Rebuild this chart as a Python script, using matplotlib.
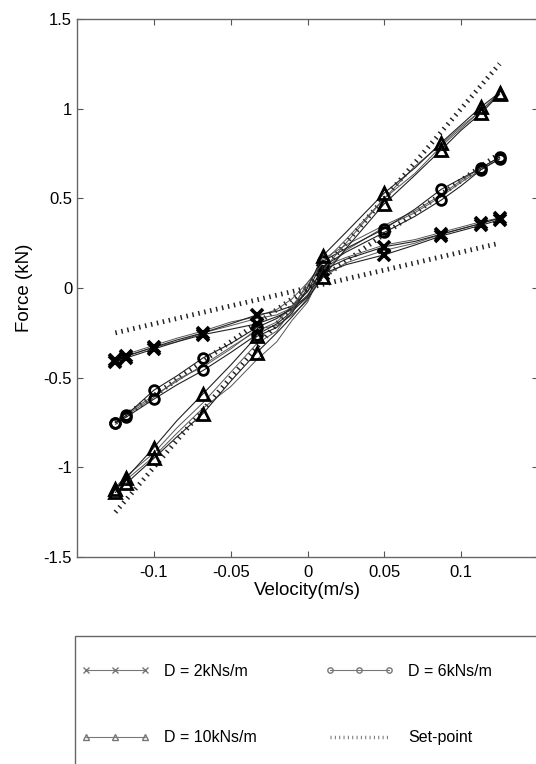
import matplotlib.pyplot as plt
from matplotlib.patches import Rectangle

plt.rcParams["font.family"] = ["Liberation Sans", "DejaVu Sans"]
plt.rcParams["font.size"] = 12

# velocity samples shared by all measured traces (m/s)
velocity = [-0.125, -0.118, -0.1, -0.085, -0.068, -0.05, -0.033, -0.02, -0.01,
            0.0, 0.01, 0.025, 0.05, 0.07, 0.087, 0.1, 0.113, 0.125]
# samples that carry a marker
marker_idx = [0, 1, 2, 4, 6, 10, 12, 14, 16, 17]

# measured force (kN), D = 2 kNs/m
force_d2_a = [-0.40, -0.38, -0.33, -0.29, -0.25, -0.20, -0.15, -0.13, -0.10, -0.02,
              0.10, 0.16, 0.23, 0.26, 0.30, 0.33, 0.36, 0.39]
force_d2_b = [-0.41, -0.39, -0.34, -0.30, -0.26, -0.23, -0.20, -0.16, -0.12, -0.04,
              0.08, 0.13, 0.185, 0.24, 0.29, 0.32, 0.35, 0.38]
force_d2_c = [-0.40, -0.37, -0.32, -0.28, -0.24, -0.19, -0.16, -0.12, -0.06, 0.03,
              0.12, 0.17, 0.24, 0.27, 0.31, 0.34, 0.37, 0.39]
force_d2_d = [-0.41, -0.38, -0.33, -0.30, -0.25, -0.21, -0.17, -0.15, -0.11, -0.05,
              0.06, 0.14, 0.21, 0.25, 0.30, 0.33, 0.36, 0.39]

# measured force (kN), D = 6 kNs/m
force_d6_a = [-0.75, -0.71, -0.57, -0.49, -0.39, -0.31, -0.22, -0.17, -0.11, -0.02,
              0.15, 0.22, 0.33, 0.44, 0.55, 0.61, 0.67, 0.73]
force_d6_b = [-0.75, -0.72, -0.62, -0.54, -0.46, -0.36, -0.26, -0.20, -0.13, -0.05,
              0.12, 0.20, 0.31, 0.40, 0.49, 0.57, 0.66, 0.72]
force_d6_c = [-0.74, -0.70, -0.60, -0.52, -0.43, -0.33, -0.24, -0.19, -0.10, 0.01,
              0.16, 0.24, 0.35, 0.43, 0.52, 0.60, 0.67, 0.73]
force_d6_d = [-0.76, -0.71, -0.61, -0.51, -0.44, -0.34, -0.23, -0.21, -0.15, -0.07,
              0.09, 0.21, 0.34, 0.42, 0.51, 0.59, 0.66, 0.72]

# measured force (kN), D = 10 kNs/m
force_d10_a = [-1.12, -1.06, -0.89, -0.74, -0.59, -0.43, -0.27, -0.22, -0.14, 0.0,
               0.18, 0.31, 0.53, 0.67, 0.81, 0.91, 1.01, 1.09]
force_d10_b = [-1.14, -1.09, -0.95, -0.83, -0.70, -0.52, -0.36, -0.25, -0.16, -0.06,
               0.06, 0.22, 0.47, 0.63, 0.77, 0.88, 0.975, 1.08]
force_d10_c = [-1.11, -1.05, -0.92, -0.78, -0.64, -0.47, -0.31, -0.24, -0.12, 0.03,
               0.14, 0.27, 0.50, 0.68, 0.80, 0.90, 0.99, 1.09]
force_d10_d = [-1.13, -1.07, -0.94, -0.81, -0.67, -0.55, -0.40, -0.30, -0.18, -0.08,
               0.10, 0.25, 0.50, 0.64, 0.79, 0.89, 0.99, 1.08]

# set-point lines (F = D * v) between the velocity limits
setpoint_v = [-0.125, 0.125]
setpoint_d2 = [-0.25, 0.25]
setpoint_d6 = [-0.75, 0.75]
setpoint_d10 = [-1.25, 1.25]

x_ticks = [-0.1, -0.05, 0, 0.05, 0.1]
x_tick_labels = ["-0.1", "-0.05", "0", "0.05", "0.1"]
y_ticks = [-1.5, -1, -0.5, 0, 0.5, 1, 1.5]
y_tick_labels = ["-1.5", "-1", "-0.5", "0", "0.5", "1", "1.5"]

fig = plt.figure(figsize=(5.36, 7.64), dpi=100)
ax = fig.add_axes([77 / 536, 1 - 557 / 764, 461 / 536, 538 / 764])

setpoint_style = dict(color="#222222", lw=3.5, ls=(0, (0.3, 0.95)),
                      solid_capstyle="butt", dash_capstyle="butt")
sp_line, = ax.plot(setpoint_v, setpoint_d2, label="Set-point", **setpoint_style)
ax.plot(setpoint_v, setpoint_d6, **setpoint_style)
ax.plot(setpoint_v, setpoint_d10, **setpoint_style)

groups = [
    ("x", 9, 2.6, "D = 2kNs/m", force_d2_a, force_d2_b, force_d2_c, force_d2_d),
    ("o", 7, 2.0, "D = 6kNs/m", force_d6_a, force_d6_b, force_d6_c, force_d6_d),
    ("^", 8, 2.0, "D = 10kNs/m", force_d10_a, force_d10_b, force_d10_c, force_d10_d),
]
handles = {}
for marker, size, mew, label, fa, fb, fc, fd in groups:
    ax.plot(velocity, fc, color="#555555", lw=0.7)
    ax.plot(velocity, fd, color="#555555", lw=0.7)
    h, = ax.plot(velocity, fa, color="#222222", lw=0.8, marker=marker,
                 markevery=marker_idx, ms=size, mew=mew, mfc="none",
                 mec="black", label=label)
    ax.plot(velocity, fb, color="#222222", lw=0.8, marker=marker,
            markevery=marker_idx, ms=size, mew=mew, mfc="none", mec="black")
    handles[label] = h

ax.set_xlim(-0.15, 0.15)
ax.set_ylim(-1.5, 1.5)
ax.set_xticks(x_ticks, x_tick_labels)
ax.set_yticks(y_ticks, y_tick_labels)
ax.tick_params(direction="in", length=4, width=0.8, top=True, right=True,
               colors="#555555", labelcolor="black", labelsize=12)
ax.tick_params(axis="x", pad=6)
for spine in ax.spines.values():
    spine.set_color("#666666")
    spine.set_linewidth(1.0)
ax.set_xlabel("Velocity(m/s)", fontsize=13.5, labelpad=1)
ax.set_ylabel("Force (kN)", fontsize=13.5, labelpad=8)

# legend box
fig.patches.append(Rectangle((75 / 536, -0.02), 0.9, 0.02 + 128 / 764,
                             transform=fig.transFigure, fill=False,
                             ec="#666666", lw=1.0))
order = ["D = 2kNs/m", "D = 10kNs/m", "D = 6kNs/m"]
leg_handles = [handles[k] for k in order] + [sp_line]
leg_labels = order + ["Set-point"]
leg = fig.legend(leg_handles, leg_labels, ncol=2, loc="upper left",
                 bbox_to_anchor=(73 / 536, 1 - 656 / 764), frameon=False,
                 borderpad=0, handlelength=4.3, handletextpad=0.9,
                 columnspacing=4.26, labelspacing=3.21, numpoints=3,
                 markerscale=0.55, fontsize=11.5)
for line in leg.get_lines():
    line.set_color("#777777")
    line.set_markeredgecolor("#777777")
    line.set_markeredgewidth(1.0)
leg.get_lines()[-1].set_linewidth(2.5)

fig.savefig("out.png", dpi=100)
